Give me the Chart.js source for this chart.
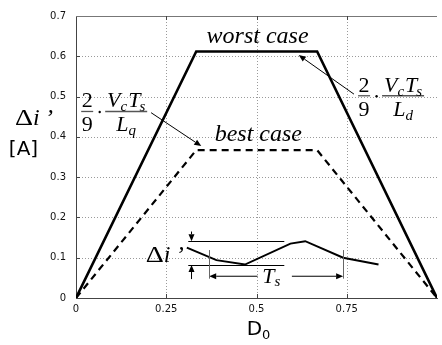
<!DOCTYPE html>
<html><head><meta charset="utf-8">
<script src="https://cdn.jsdelivr.net/npm/chart.js@4"></script>
<style>html,body{margin:0;padding:0;background:#fff;overflow:hidden}canvas{display:block}</style>
</head><body>
<canvas id="c" width="442" height="345"></canvas>
<script>
// ---- data ----
const dutyBreaks = [0, 0.333, 0.668, 1];
const worstCase = [0, 0.612, 0.612, 0];
const bestCase = [0, 0.367, 0.367, 0];
const rippleDuty = [0.307, 0.389, 0.468, 0.594, 0.635, 0.740, 0.838];
const rippleCurrent = [0.125, 0.094, 0.083, 0.135, 0.141, 0.100, 0.083];
const xTickValues = [0, 0.25, 0.5, 0.75, 1];
const xTickLabels = ['0', '0.25', '0.5', '0.75', ''];
const yTickValues = [0, 0.1, 0.2, 0.3, 0.4, 0.5, 0.6, 0.7];
const yTickLabels = ['0', '0.1', '0.2', '0.3', '0.4', '0.5', '0.6', '0.7'];

// ---- annotations (data units) ----
const arrows = [
  [0.208, 0.460, 0.347, 0.377],
  [0.770, 0.506, 0.617, 0.603],
  [0.320, 0.165, 0.320, 0.141],
  [0.320, 0.047, 0.320, 0.082],
  [0.503, 0.054, 0.369, 0.054],
  [0.598, 0.054, 0.740, 0.054]
];
const plainLines = [
  [0.311, 0.141, 0.577, 0.141],
  [0.311, 0.082, 0.577, 0.082]
];
const markerLines = [
  [0.369, 0.119, 0.369, 0.048],
  [0.740, 0.119, 0.740, 0.048]
];

const SERIF = '"Liberation Serif","Times New Roman",serif';
const SANS = '"DejaVu Sans","Verdana",sans-serif';

const pts = (xs, ys) => xs.map((x, i) => ({x, y: ys[i]}));
const lookup = (vals, labels, v) => {
  const i = vals.findIndex(t => Math.abs(t - v) < 1e-6);
  return i < 0 ? '' : labels[i];
};

function arrow(ctx, x1, y1, x2, y2, len, w) {
  const a = Math.atan2(y2 - y1, x2 - x1);
  const bx = x2 - len * Math.cos(a), by = y2 - len * Math.sin(a);
  ctx.beginPath(); ctx.moveTo(x1, y1); ctx.lineTo(bx, by); ctx.stroke();
  ctx.beginPath(); ctx.moveTo(x2, y2);
  ctx.lineTo(bx + w * Math.sin(a), by - w * Math.cos(a));
  ctx.lineTo(bx - w * Math.sin(a), by + w * Math.cos(a));
  ctx.closePath(); ctx.fill();
}
function runs(ctx, list, x, y, align) {
  let total = 0;
  list.forEach(r => { ctx.font = r[1]; total += ctx.measureText(r[0]).width + (r[3] || 0); });
  let cx = align === 'center' ? x - total / 2 : x;
  ctx.textAlign = 'left'; ctx.textBaseline = 'alphabetic';
  list.forEach(r => { ctx.font = r[1]; ctx.fillText(r[0], cx, y + (r[2] || 0)); cx += ctx.measureText(r[0]).width + (r[3] || 0); });
}
function fraction(ctx, cx, by, sub) {
  const up = '22px ' + SERIF, it = 'italic 22px ' + SERIF, sb = 'italic 15px ' + SERIF;
  ctx.fillStyle = '#000';
  ctx.font = up; ctx.textAlign = 'center'; ctx.textBaseline = 'alphabetic';
  ctx.fillText('2', cx, by - 4);
  ctx.fillText('9', cx, by + 20);
  ctx.strokeStyle = '#555'; ctx.lineWidth = 1.3;
  ctx.beginPath(); ctx.moveTo(cx - 6, by); ctx.lineTo(cx + 6, by); ctx.stroke();
  ctx.beginPath(); ctx.arc(cx + 12.5, by + 0.5, 1.2, 0, Math.PI * 2); ctx.fill();
  ctx.beginPath(); ctx.moveTo(cx + 18, by); ctx.lineTo(cx + 60, by); ctx.stroke();
  runs(ctx, [['V', it], ['c', sb, 4, 1], ['T', it, 0, -1], ['s', sb, 4]], cx + 39, by - 4, 'center');
  runs(ctx, [['L', it], [sub, sb, 4]], cx + 39, by + 20, 'center');
}
function deltaI(ctx, x, y) {
  ctx.save();
  ctx.textAlign = 'left'; ctx.textBaseline = 'alphabetic';
  ctx.translate(x, y); ctx.scale(1.22, 1);
  ctx.font = '23px ' + SERIF; ctx.fillText('Δ', 0, 0);
  ctx.restore();
  ctx.font = 'italic 24px ' + SERIF;
  ctx.fillText('i', x + 18, y);
  ctx.fillText('’', x + 30, y);
}

const gridAndFrame = {
  id: 'gridAndFrame',
  beforeDatasetsDraw(chart) {
    const ctx = chart.ctx, xs = chart.scales.x, ys = chart.scales.y, a = chart.chartArea;
    ctx.save();
    ctx.strokeStyle = '#9a9a9a'; ctx.lineWidth = 1; ctx.setLineDash([1, 2]);
    xTickValues.slice(1, -1).forEach(v => {
      const x = Math.round(xs.getPixelForValue(v)) + 0.5;
      ctx.beginPath(); ctx.moveTo(x, a.top); ctx.lineTo(x, a.bottom); ctx.stroke();
    });
    yTickValues.slice(1, -1).forEach(v => {
      const y = Math.round(ys.getPixelForValue(v)) + 0.5;
      ctx.beginPath(); ctx.moveTo(a.left, y); ctx.lineTo(a.right, y); ctx.stroke();
    });
    ctx.setLineDash([]);
    ctx.strokeStyle = '#777';
    ctx.beginPath(); ctx.moveTo(a.left, Math.round(a.top) + 0.5); ctx.lineTo(a.right, Math.round(a.top) + 0.5); ctx.stroke();
    ctx.strokeStyle = '#444';
    xTickValues.slice(1, -1).forEach(v => {
      const x = Math.round(xs.getPixelForValue(v)) + 0.5;
      ctx.beginPath(); ctx.moveTo(x, a.bottom); ctx.lineTo(x, a.bottom - 4); ctx.stroke();
      ctx.beginPath(); ctx.moveTo(x, a.top); ctx.lineTo(x, a.top + 4); ctx.stroke();
    });
    yTickValues.slice(1, -1).forEach(v => {
      const y = Math.round(ys.getPixelForValue(v)) + 0.5;
      ctx.beginPath(); ctx.moveTo(a.left, y); ctx.lineTo(a.left + 4, y); ctx.stroke();
    });
    ctx.restore();
  }
};

const overlay = {
  id: 'overlay',
  afterDatasetsDraw(chart) {
    const ctx = chart.ctx, xs = chart.scales.x, ys = chart.scales.y, a = chart.chartArea;
    const X = v => xs.getPixelForValue(v), Y = v => ys.getPixelForValue(v);
    ctx.save();
    ctx.strokeStyle = '#000'; ctx.fillStyle = '#000'; ctx.lineWidth = 1;
    arrows.forEach(r => arrow(ctx, X(r[0]), Y(r[1]), X(r[2]), Y(r[3]), 7, 3));
    plainLines.forEach(r => { ctx.beginPath(); ctx.moveTo(X(r[0]), Math.round(Y(r[1])) + 0.5); ctx.lineTo(X(r[2]), Math.round(Y(r[3])) + 0.5); ctx.stroke(); });
    ctx.strokeStyle = '#666';
    markerLines.forEach(r => { ctx.beginPath(); ctx.moveTo(Math.round(X(r[0])) + 0.5, Y(r[1])); ctx.lineTo(Math.round(X(r[2])) + 0.5, Y(r[3])); ctx.stroke(); });
    ctx.fillStyle = '#000';
    ctx.textBaseline = 'alphabetic';
    ctx.font = 'italic 24px ' + SERIF; ctx.textAlign = 'center';
    ctx.fillText('worst case', X(0.503), Y(0.634));
    ctx.fillText('best case', X(0.505), Y(0.389));
    fraction(ctx, X(0.031), Y(0.463), 'q');
    fraction(ctx, X(0.798), Y(0.502), 'd');
    deltaI(ctx, X(0.193), Y(0.089));
    runs(ctx, [['T', 'italic 22px ' + SERIF], ['s', 'italic 15px ' + SERIF, 3]], X(0.516), Y(0.036), 'left');
    deltaI(ctx, 15, 125);
    ctx.font = '20px ' + SANS; ctx.textAlign = 'center'; ctx.fillText('[A]', 23.5, 155);
    runs(ctx, [['D', '20px ' + SANS], ['0', '13px ' + SANS, 4]], (a.left + a.right) / 2 + 2, 335, 'center');
    ctx.restore();
  }
};

new Chart(document.getElementById('c'), {
  type: 'scatter',
  data: {
    datasets: [
      {data: pts(dutyBreaks, worstCase), showLine: true, borderColor: '#000', borderWidth: 2.6, pointRadius: 0, fill: false},
      {data: pts(dutyBreaks, bestCase), showLine: true, borderColor: '#000', borderWidth: 2.2, borderDash: [7, 5], pointRadius: 0, fill: false},
      {data: pts(rippleDuty, rippleCurrent), showLine: true, borderColor: '#000', borderWidth: 2, pointRadius: 0, fill: false}
    ]
  },
  options: {
    responsive: false, animation: false, devicePixelRatio: 1,
    layout: {padding: {top: 10, right: 0, left: 0, bottom: 0}},
    plugins: {legend: {display: false}, tooltip: {enabled: false}},
    scales: {
      x: {
        type: 'linear', min: 0, max: 1,
        afterFit: s => { s.height = 47; },
        ticks: {stepSize: 0.25, padding: 5, color: '#111', font: {family: SANS, size: 10}, maxRotation: 0,
          callback: v => lookup(xTickValues, xTickLabels, v)},
        grid: {display: false, drawTicks: false},
        border: {display: true, color: '#444', width: 1}
      },
      y: {
        min: 0, max: 0.7,
        afterFit: s => { s.width = 76; },
        ticks: {stepSize: 0.1, padding: 10, color: '#111', font: {family: SANS, size: 10},
          callback: v => lookup(yTickValues, yTickLabels, v)},
        grid: {display: false, drawTicks: false},
        border: {display: true, color: '#444', width: 1}
      }
    }
  },
  plugins: [gridAndFrame, overlay]
});
</script>
</body></html>
